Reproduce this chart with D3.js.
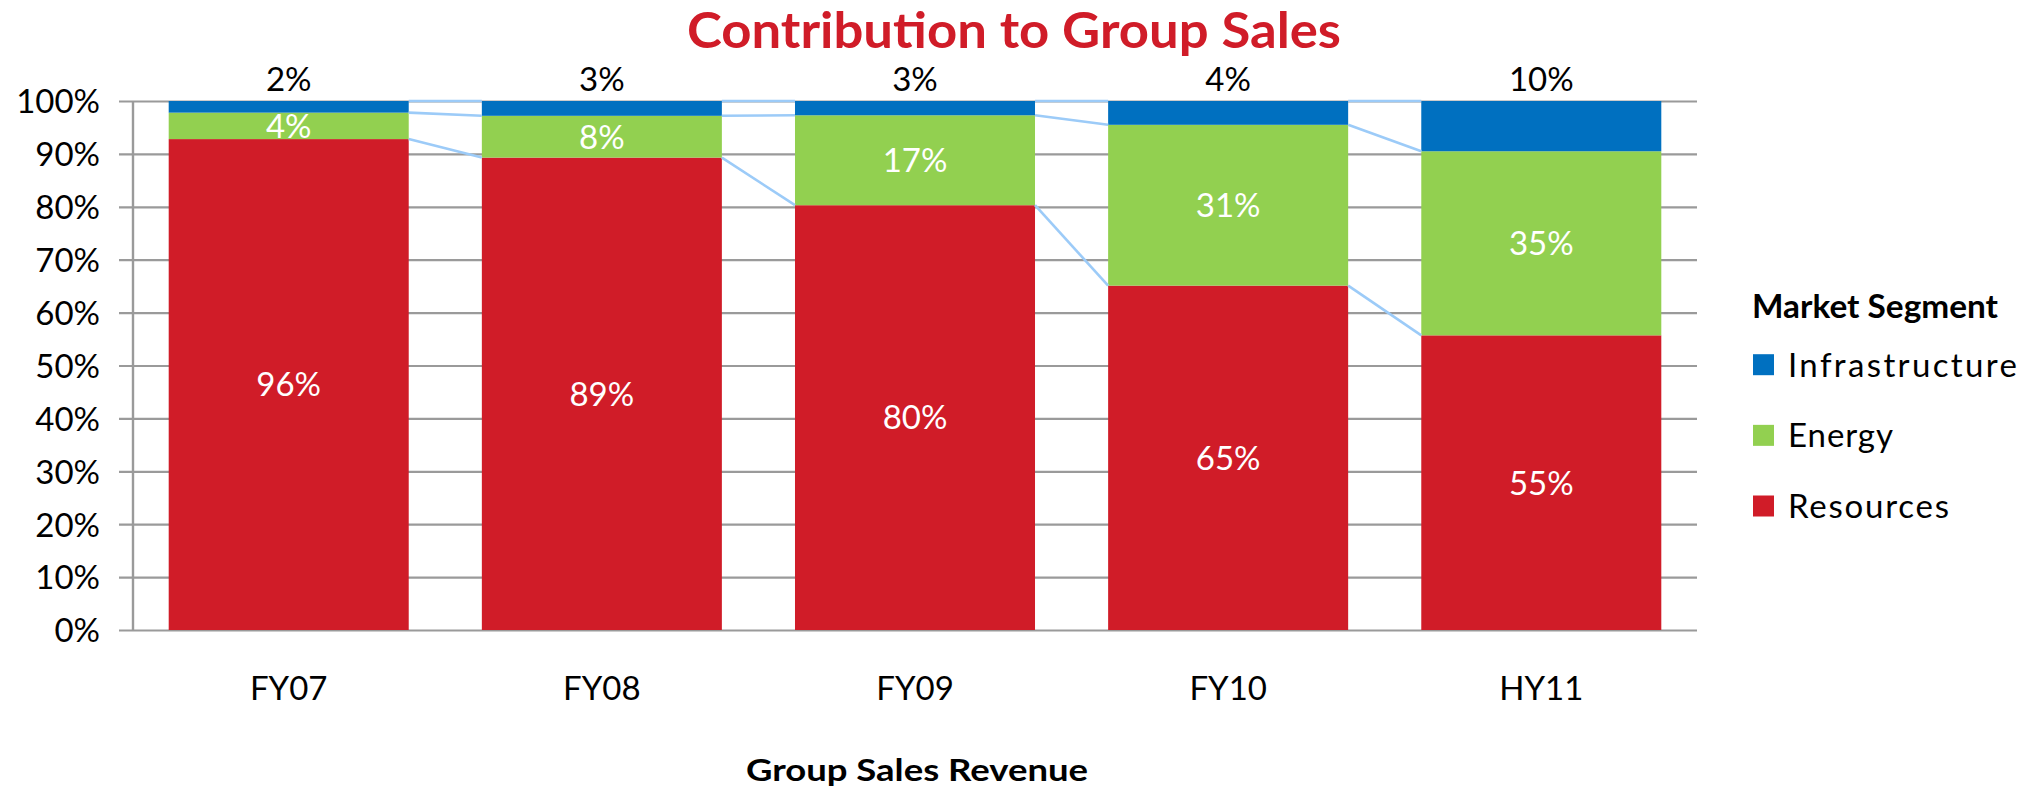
<!DOCTYPE html>
<html>
<head>
<meta charset="utf-8">
<script src="https://cdn.jsdelivr.net/npm/d3@7"></script>
<style>
  html, body { margin: 0; padding: 0; background: #ffffff; }
  svg { display: block; font-family: Lato, "Open Sans", sans-serif; }
</style>
</head>
<body>
<svg id="chart" width="2032" height="792"></svg>
<script>
// ---------------- data ----------------
const categories = ["FY07", "FY08", "FY09", "FY10", "HY11"];
// bar segment shares as drawn (percent of bar height)
const resources = [92.8, 89.3, 80.3, 65.1, 55.7];
const energy = [5.0, 7.9, 17.0, 30.4, 34.8];
const infrastructure = [2.2, 2.8, 2.7, 4.5, 9.5];
// data label texts as printed on the chart
const resourcesLabels = ["96%", "89%", "80%", "65%", "55%"];
const energyLabels = ["4%", "8%", "17%", "31%", "35%"];
const infrastructureLabels = ["2%", "3%", "3%", "4%", "10%"];
const yTicks = [0, 10, 20, 30, 40, 50, 60, 70, 80, 90, 100];
const legendNames = ["Infrastructure", "Energy", "Resources"];
const titleText = "Contribution to Group Sales";
const xTitleText = "Group Sales Revenue";
const legendTitleText = "Market Segment";

// ---------------- setup ----------------
const colors = { resources: "#D01C28", energy: "#92D050", infrastructure: "#0070C0" };
const gridColor = "#9a9a9a";
const seriesLineColor = "#9CCBF8";
const labelSize = 33;

const svg = d3.select("#chart");
const plotLeft = 133, plotRight = 1697, plotTop = 101, plotBottom = 630;

const x = d3.scaleBand().domain(categories).range([plotLeft, plotRight])
  .paddingInner(0.2335).paddingOuter(0.114);
const y = d3.scaleLinear().domain([0, 100]).range([plotBottom, plotTop]);

const table = categories.map((c, i) => ({
  category: c,
  resources: resources[i],
  energy: energy[i],
  infrastructure: infrastructure[i],
  labels: { resources: resourcesLabels[i], energy: energyLabels[i], infrastructure: infrastructureLabels[i] }
}));
const keys = ["resources", "energy", "infrastructure"];
const stacked = d3.stack().keys(keys)(table);

// ---------------- gridlines + y ticks ----------------
const grid = svg.append("g").attr("transform", `translate(${plotLeft - 14},0)`)
  .call(d3.axisLeft(y).tickValues(yTicks).tickSize(-(plotRight - plotLeft + 14)).tickFormat(""));
grid.select(".domain").remove();
grid.selectAll("line").attr("stroke", gridColor).attr("stroke-width", 2.2);

const yAxis = svg.append("g").attr("transform", `translate(${plotLeft - 14},0)`)
  .call(d3.axisLeft(y).tickValues(yTicks).tickSize(0).tickPadding(19).tickFormat(d => d + "%"));
yAxis.select(".domain").remove();
yAxis.selectAll("text")
  .attr("font-family", "Lato, sans-serif").attr("font-size", labelSize).attr("fill", "#000")
  .attr("dy", "0.36em");

// ---------------- bars ----------------
const layers = svg.append("g").selectAll("g").data(stacked).join("g")
  .attr("fill", d => colors[d.key]);
layers.selectAll("rect").data(d => d).join("rect")
  .attr("x", d => x(d.data.category))
  .attr("width", x.bandwidth())
  .attr("y", d => y(d[1]))
  .attr("height", d => y(d[0]) - y(d[1]));

// ---------------- series lines ----------------
const lineGen = d3.line().x(d => d[0]).y(d => d[1]);
const seriesLines = svg.append("g").attr("fill", "none").attr("stroke", seriesLineColor).attr("stroke-width", 2.6);
stacked.forEach(layer => {
  for (let i = 0; i < layer.length - 1; i++) {
    const a = layer[i], b = layer[i + 1];
    seriesLines.append("path").attr("d", lineGen([
      [x(a.data.category) + x.bandwidth(), y(a[1])],
      [x(b.data.category), y(b[1])]
    ]));
  }
});

// ---------------- vertical axis line ----------------
svg.append("line")
  .attr("x1", plotLeft).attr("x2", plotLeft)
  .attr("y1", y(0)).attr("y2", y(100))
  .attr("stroke", gridColor).attr("stroke-width", 2.4);

// ---------------- data labels ----------------
const labelG = svg.append("g").attr("font-family", "Lato, sans-serif").attr("font-size", labelSize)
  .attr("text-anchor", "middle");
stacked.forEach(layer => {
  labelG.selectAll(null).data(layer).join("text")
    .attr("x", d => x(d.data.category) + x.bandwidth() / 2)
    .attr("y", d => layer.key === "infrastructure" ? y(100) - 22 : y((d[0] + d[1]) / 2))
    .attr("dy", "0.36em")
    .attr("fill", layer.key === "infrastructure" ? "#000" : "#fff")
    .text(d => d.data.labels[layer.key]);
});

// ---------------- x axis labels ----------------
const xAxis = svg.append("g").attr("transform", `translate(0,${plotBottom})`)
  .call(d3.axisBottom(x).tickSize(0).tickPadding(58));
xAxis.select(".domain").remove();
xAxis.selectAll("text")
  .attr("font-family", "Lato, sans-serif").attr("font-size", labelSize).attr("fill", "#000")
  .attr("dy", "0.36em");

// ---------------- titles ----------------
svg.append("text")
  .attr("x", 687).attr("y", 48)
  .attr("font-family", "Lato, sans-serif").attr("font-weight", 700).attr("font-size", 49)
  .attr("fill", "#D01C28")
  .attr("textLength", 654).attr("lengthAdjust", "spacingAndGlyphs")
  .text(titleText);

svg.append("text")
  .attr("x", 746).attr("y", 781)
  .attr("font-family", "Lato, sans-serif").attr("font-weight", 700).attr("font-size", 30)
  .attr("fill", "#000")
  .attr("textLength", 342).attr("lengthAdjust", "spacingAndGlyphs")
  .text(xTitleText);

// ---------------- legend ----------------
const legend = svg.append("g");
legend.append("text")
  .attr("x", 1752).attr("y", 318)
  .attr("font-family", "Lato, sans-serif").attr("font-weight", 700).attr("font-size", 32)
  .attr("fill", "#000")
  .attr("textLength", 246).attr("lengthAdjust", "spacingAndGlyphs")
  .text(legendTitleText);

const legendKeys = ["infrastructure", "energy", "resources"];
const legendWidths = { infrastructure: 229, energy: 105, resources: 161 };
const ly = d3.scalePoint().domain(legendKeys).range([364.7, 506]);
const items = legend.selectAll("g.item").data(legendKeys).join("g").attr("class", "item")
  .attr("transform", k => `translate(0,${ly(k)})`);
items.append("rect")
  .attr("x", 1753).attr("y", -10.5).attr("width", 21).attr("height", 21)
  .attr("fill", k => colors[k]);
items.append("text")
  .attr("x", 1788).attr("y", 0).attr("dy", "0.36em")
  .attr("font-family", "Lato, sans-serif").attr("font-size", 33).attr("fill", "#000")
  .attr("textLength", k => legendWidths[k]).attr("lengthAdjust", "spacing")
  .text((k, i) => legendNames[i]);
</script>
</body>
</html>
